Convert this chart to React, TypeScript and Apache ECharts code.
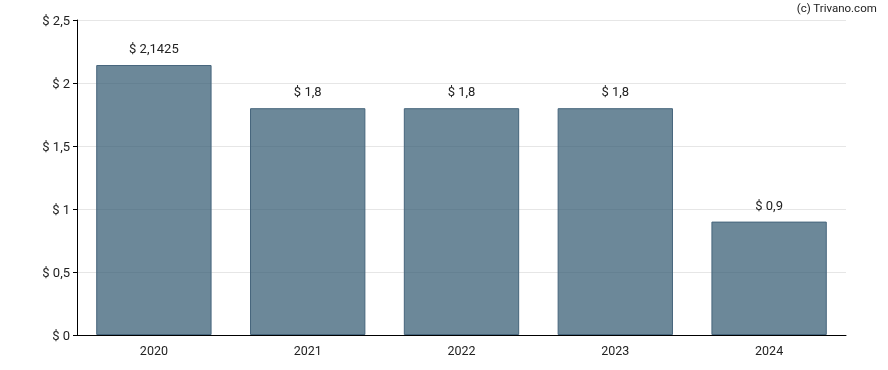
import React, { useEffect, useRef } from "react";
import * as echarts from "echarts";

const categories = ["2020", "2021", "2022", "2023", "2024"];
const values = [2.1425, 1.8, 1.8, 1.8, 0.9];
const yTicks = [0, 0.5, 1, 1.5, 2, 2.5];

const fmt = (v: number) => "$ " + String(v).replace(".", ",");

export default function App() {
  const ref = useRef<HTMLDivElement>(null);
  useEffect(() => {
    const chart = echarts.init(ref.current!, null, { renderer: "svg" });
    chart.setOption({
      animation: false,
      textStyle: { fontFamily: "Roboto" },
      grid: { left: 77, right: 42, top: 20, bottom: 35 },
      graphic: [
        {
          type: "text",
          right: 11,
          top: 2,
          style: { text: "(c) Trivano.com", font: "11.5px Roboto", fill: "#222" },
        },
      ],
      xAxis: {
        type: "category",
        data: categories,
        axisLine: { lineStyle: { color: "#000", width: 1 } },
        axisTick: { alignWithLabel: true, length: 4, lineStyle: { color: "#000" } },
        axisLabel: { color: "#222", fontSize: 12.5, margin: 9 },
      },
      yAxis: {
        type: "value",
        min: yTicks[0],
        max: yTicks[yTicks.length - 1],
        interval: 0.5,
        axisLine: { show: true, lineStyle: { color: "#000", width: 1 } },
        axisTick: { show: true, length: 4, lineStyle: { color: "#000" } },
        axisLabel: { color: "#222", fontSize: 13, margin: 7, formatter: (v: number) => fmt(v) },
        splitLine: { lineStyle: { color: "#e6e6e6", width: 1 } },
      },
      series: [
        {
          type: "bar",
          data: values,
          barCategoryGap: "25%",
          z: 1,
          itemStyle: {
            color: "rgba(45,85,110,0.7)",
            borderColor: "#46657c",
            borderWidth: 1,
          },
          label: {
            show: true,
            position: "top",
            distance: 10,
            color: "#222",
            fontSize: 13,
            formatter: (p: any) => fmt(p.value),
          },
        },
      ],
    });
    return () => chart.dispose();
  }, []);
  return <div ref={ref} style={{ position: "fixed", left: 0, top: 0, width: 888, height: 370 }} />;
}
